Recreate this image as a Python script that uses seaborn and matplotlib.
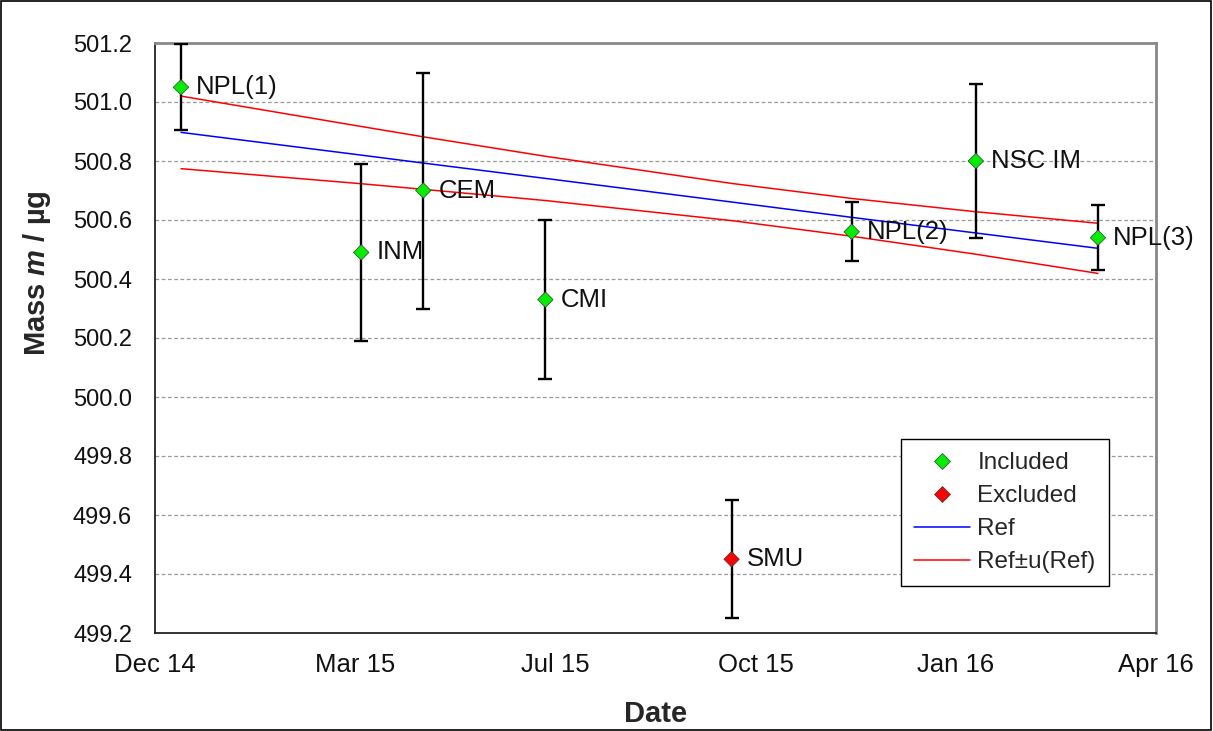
import matplotlib
matplotlib.use("Agg")
import matplotlib.pyplot as plt
import matplotlib.dates as mdates
from matplotlib.patches import Rectangle
from matplotlib.lines import Line2D
import seaborn as sns
import pandas as pd

# ---- data ----
labs = ["NPL(1)", "INM", "CEM", "CMI", "SMU", "NPL(2)", "NSC IM", "NPL(3)"]
dates = ["2014-12-28", "2015-03-28", "2015-04-28", "2015-06-28",
         "2015-09-29", "2015-11-28", "2016-01-29", "2016-03-30"]
mass = [501.05, 500.49, 500.70, 500.33, 499.45, 500.56, 500.80, 500.54]
unc = [0.145, 0.30, 0.40, 0.27, 0.20, 0.10, 0.26, 0.11]
status = ["Included", "Included", "Included", "Included", "Excluded",
          "Included", "Included", "Included"]
ref = [500.897, 500.820, 500.793, 500.741, 500.661, 500.609, 500.556, 500.504]
ref_u = [0.123, 0.097, 0.089, 0.075, 0.063, 0.064, 0.072, 0.085]
tick_labels = ["Dec 14", "Mar 15", "Jul 15", "Oct 15", "Jan 16", "Apr 16"]
y_ticks = [499.2, 499.4, 499.6, 499.8, 500.0, 500.2, 500.4, 500.6, 500.8, 501.0, 501.2]

df = pd.DataFrame({"date": pd.to_datetime(dates), "mass": mass, "u": unc,
                   "status": status, "lab": labs,
                   "ref": ref, "ref_u": ref_u})
df["upper"] = df["ref"] + df["ref_u"]
df["lower"] = df["ref"] - df["ref_u"]

sns.set_theme(style="white")
plt.rcParams["font.family"] = ["Liberation Sans", "DejaVu Sans"]
plt.rcParams["mathtext.fontset"] = "custom"
plt.rcParams["mathtext.it"] = "Liberation Sans:italic:bold"
plt.rcParams["mathtext.rm"] = "Liberation Sans:bold"

fig = plt.figure(figsize=(12.13, 7.31), dpi=100)
ax = fig.add_axes([155 / 1213, 1 - 633 / 731, 1001 / 1213, 590 / 731])

# error bars
ax.errorbar(df["date"], df["mass"], yerr=df["u"], fmt="none", ecolor="black",
            elinewidth=1.7, capsize=4.8, capthick=1.7, zorder=3)

# reference lines
sns.lineplot(data=df, x="date", y="ref", color="#0000FF", lw=1.1, ax=ax,
             estimator=None, sort=True, zorder=2, legend=False)
sns.lineplot(data=df, x="date", y="upper", color="#FF0000", lw=1.1, ax=ax,
             estimator=None, sort=True, zorder=2, legend=False)
sns.lineplot(data=df, x="date", y="lower", color="#FF0000", lw=1.1, ax=ax,
             estimator=None, sort=True, zorder=2, legend=False)

# points
sns.scatterplot(data=df, x="date", y="mass", hue="status",
                palette={"Included": "#00EE00", "Excluded": "#FF0000"},
                marker="D", s=62, edgecolor="#3a3a3a", linewidth=0.5,
                ax=ax, zorder=4, legend=False)

for _, r in df.iterrows():
    ax.annotate(r["lab"], (mdates.date2num(r["date"]), r["mass"]),
                xytext=(11, 0), textcoords="offset points",
                va="center", ha="left", fontsize=18.5, color="#111111")

# axes
origin = pd.Timestamp("2014-12-15")
xt = [origin + pd.Timedelta(days=100 * k) for k in range(6)]
ax.set_xlim(mdates.date2num(xt[0]), mdates.date2num(xt[-1]))
ax.set_xticks([mdates.date2num(t) for t in xt])
ax.set_xticklabels(tick_labels, fontsize=18.5)
ax.set_ylim(499.2, 501.2)
ax.set_yticks(y_ticks)
ax.set_yticklabels([f"{v:.1f}" for v in y_ticks], fontsize=17)
ax.tick_params(axis="both", direction="out", length=6.5, width=1,
               color="black", colors="#111111")
ax.tick_params(axis="x", pad=8)
ax.tick_params(axis="y", pad=10)

for v in y_ticks[1:-1]:
    ax.axhline(v, color="#999999", lw=0.9, ls=(0, (3, 2)), zorder=1)

ax.spines["left"].set_color("#222222")
ax.spines["bottom"].set_color("#222222")
ax.spines["left"].set_linewidth(1.3)
ax.spines["bottom"].set_linewidth(1.3)
ax.spines["top"].set_color("#888888")
ax.spines["right"].set_color("#888888")
ax.spines["top"].set_linewidth(2)
ax.spines["right"].set_linewidth(2)

ax.set_xlabel("Date", fontsize=21, fontweight="bold")
ax.set_ylabel(r"Mass $m$ / µg", fontsize=21, fontweight="bold")
ax.xaxis.set_label_coords(0.5, -0.113)
ax.yaxis.set_label_coords(-0.102, 0.61)

# legend
handles = [
    Line2D([], [], ls="none", marker="D", markersize=7.8, markerfacecolor="#00EE00",
           markeredgecolor="#3a3a3a", markeredgewidth=0.5),
    Line2D([], [], ls="none", marker="D", markersize=7.8, markerfacecolor="#FF0000",
           markeredgecolor="#3a3a3a", markeredgewidth=0.5),
    Line2D([], [], color="#0000FF", lw=1.1),
    Line2D([], [], color="#FF0000", lw=1.1),
]
leg = ax.legend(handles, ["Included", "Excluded", "Ref", "Ref±u(Ref)"],
                loc="upper left", bbox_to_anchor=(0.745, 0.329),
                fontsize=17.5, frameon=True, fancybox=False,
                edgecolor="black", framealpha=1, labelspacing=0.45,
                handlelength=2.3, handletextpad=0.3, borderpad=0.55,
                borderaxespad=0)
leg.get_frame().set_linewidth(1.0)

fig.patches.append(Rectangle((0.001, 0.001), 0.997, 0.997, transform=fig.transFigure,
                             fill=False, edgecolor="black", lw=1.2))

fig.savefig("out.png", dpi=100)
